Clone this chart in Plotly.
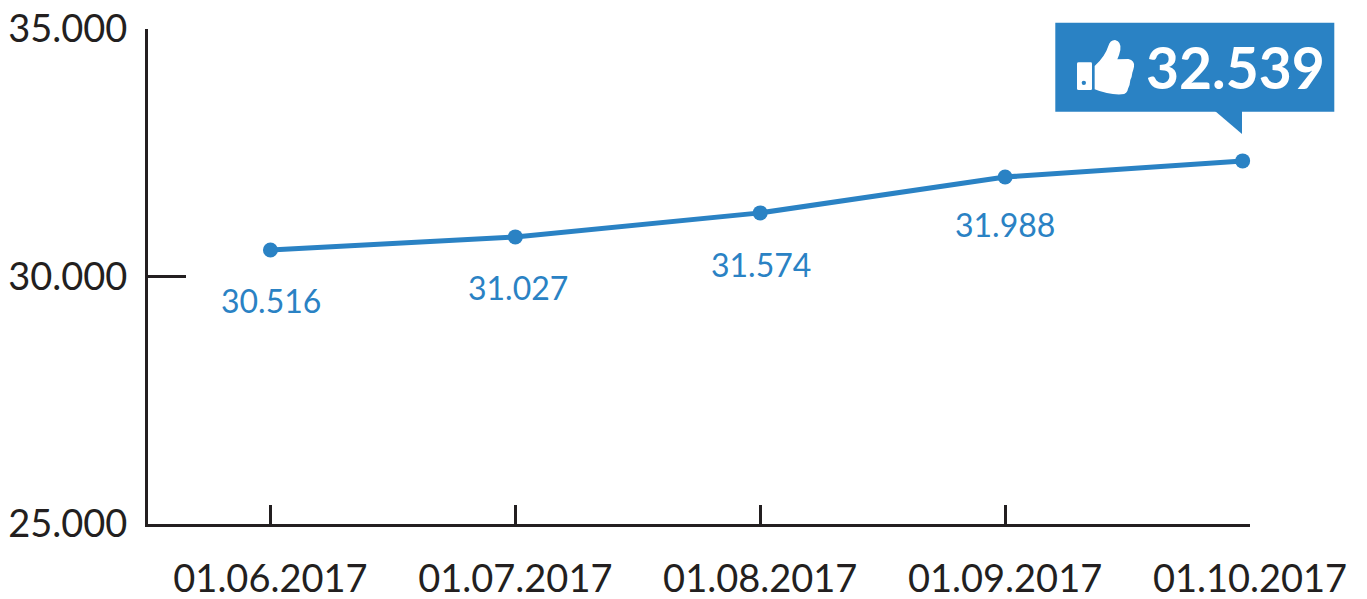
import plotly.graph_objects as go

dates = ["01.06.2017", "01.07.2017", "01.08.2017", "01.09.2017", "01.10.2017"]
tick_pos = [0, 1, 2, 3, 4]
point_pos = [0, 1, 2, 3, 3.97]
plotted = [30535, 30800, 31285, 32010, 32335]
labels = ["30.516", "31.027", "31.574", "31.988"]
label_shift_y = [-50, -51, -52, -47]
label_shift_x = [1, 3, 1, 0]
y_ticks = [25000, 30000, 35000]
y_tick_text = ["25.000", "30.000", "35.000"]
highlight = "32.539"

BLUE = "#2a82c4"
DARK = "#231f20"
FONT = "Lato"
W, H = 1367, 599
L, R, T, B = 148, 1250, 29, 524


def py(y):
    return (B - y) / (B - T)


def fx(x):
    return (x - L) / (R - L)


def zp(cmds):
    """Icon outline given in pixels of the picture, converted to paper coordinates."""
    out = []
    for c in cmds:
        if isinstance(c, str):
            out.append(c)
        else:
            out.append(f"{fx(c[0]):.5f},{py(c[1]):.5f}")
    return " ".join(out)


def z(xz, yz):
    return (1040 + xz / 3, 10 + yz / 3)


fig = go.Figure()
fig.add_trace(go.Scatter(
    x=point_pos, y=plotted, mode="lines+markers", cliponaxis=False,
    line=dict(color=BLUE, width=5), marker=dict(color=BLUE, size=15),
    hoverinfo="skip", showlegend=False))

annotations = []
for i, t in enumerate(labels):
    annotations.append(dict(x=point_pos[i], y=plotted[i], xref="x", yref="y", text=t,
                            showarrow=False, yshift=label_shift_y[i], xshift=label_shift_x[i],
                            font=dict(family=FONT, size=32, color=BLUE)))
annotations.append(dict(x=fx(1235), y=py(67), xref="paper", yref="paper", text=f"<b>{highlight}</b>",
                        xanchor="center", yanchor="middle",
                        showarrow=False, font=dict(family=FONT, size=57, color="white")))

box = dict(type="rect", xref="paper", yref="paper", x0=fx(1055.3), x1=fx(1334.3), y0=py(111.7), y1=py(22.7),
           fillcolor=BLUE, line_width=0, layer="above")
tail = dict(type="path", xref="paper", yref="paper",
            path=zp(["M", (1215, 111), "L", (1242, 134), "L", (1242, 111), "Z"]),
            fillcolor=BLUE, line_width=0, layer="above")
cuff = dict(type="path", xref="paper", yref="paper",
            path=zp(["M", z(116, 157), "L", z(152, 157), "Q", z(156, 157), z(156, 161), "L", z(156, 236), "Q", z(156, 240), z(152, 240),
                     "L", z(116, 240), "Q", z(111, 240), z(111, 236), "L", z(111, 161), "Q", z(111, 157), z(116, 157), "Z"]),
            fillcolor="white", line_width=0, layer="above")
hole = dict(type="circle", xref="paper", yref="paper", x0=fx(z(125, 0)[0]), x1=fx(z(138, 0)[0]),
            y0=py(z(0, 225)[1]), y1=py(z(0, 212)[1]), fillcolor=BLUE, line_width=0, layer="above")
thumb = dict(type="path", xref="paper", yref="paper",
             path=zp(["M", z(164, 168), "Q", z(195, 140), z(205, 108), "Q", z(210, 90), z(225, 90),
                      "Q", z(245, 95), z(241, 120), "Q", z(238, 135), z(232, 148), "L", z(265, 147),
                      "Q", z(285, 152), z(282, 170), "Q", z(280, 180), z(277, 188), "Q", z(276, 200), z(271, 210),
                      "Q", z(270, 225), z(264, 236), "Q", z(262, 252), z(245, 253), "Q", z(205, 255), z(164, 238), "Z"]),
             fillcolor="white", line_width=0, layer="above")

fig.update_layout(
    width=W, height=H, margin=dict(l=L, r=W - R, t=T, b=H - B, pad=0),
    paper_bgcolor="white", plot_bgcolor="white", showlegend=False,
    annotations=annotations, shapes=[box, tail, cuff, hole, thumb],
    xaxis=dict(range=[-0.5, 4], tickvals=tick_pos, ticktext=dates, showgrid=False, zeroline=False, automargin=False,
               showline=True, linecolor=DARK, linewidth=3, ticks="inside", ticklen=19, tickwidth=3,
               tickcolor=DARK, ticklabelstandoff=19, tickfont=dict(family=FONT, size=38, color=DARK)),
    yaxis=dict(range=[25000, 35000], tickvals=y_ticks, ticktext=y_tick_text, showgrid=False, zeroline=False, automargin=False,
               showline=True, linecolor=DARK, linewidth=3, ticks="inside", ticklen=38, tickwidth=3,
               tickcolor=DARK, ticklabelstandoff=10, tickfont=dict(family=FONT, size=38, color=DARK)),
)

fig.write_html("out.html", config={"displayModeBar": False}, post_script="document.body.style.margin='0';")
